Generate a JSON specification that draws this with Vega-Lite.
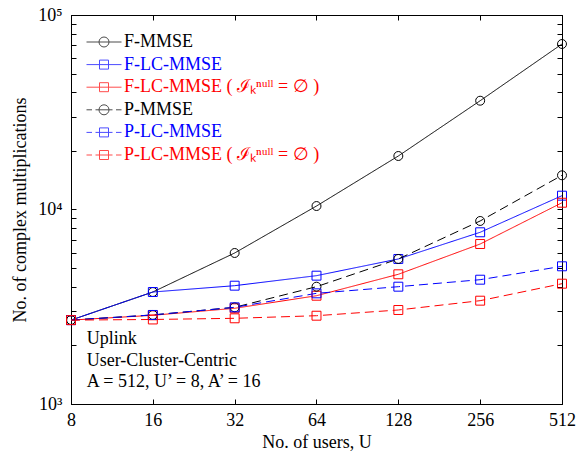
{
  "$schema": "https://vega.github.io/schema/vega-lite/v6.json",
  "width": 491,
  "height": 389,
  "autosize": {"type": "none"},
  "padding": {"left": 71, "top": 15, "right": 25, "bottom": 54},
  "background": "white",
  "config": {
    "view": {"stroke": "black", "strokeWidth": 1},
    "font": "Liberation Serif",
    "axis": {
      "labelFont": "Liberation Serif", "titleFont": "Liberation Serif",
      "labelFontSize": 18, "titleFontSize": 18, "labelColor": "black", "titleColor": "black",
      "titleFontWeight": "normal", "domainColor": "black", "tickColor": "black",
      "grid": false, "tickSize": -5, "domainWidth": 1, "tickWidth": 1, "labelOverlap": false, "labelFlush": false
    }
  },
  "data": {"values": [
    {"U": 8, "series": "F-MMSE", "value": 2700},
    {"U": 16, "series": "F-MMSE", "value": 3765},
    {"U": 32, "series": "F-MMSE", "value": 5976},
    {"U": 64, "series": "F-MMSE", "value": 10420},
    {"U": 128, "series": "F-MMSE", "value": 18840},
    {"U": 256, "series": "F-MMSE", "value": 36250},
    {"U": 512, "series": "F-MMSE", "value": 70950},
    {"U": 8, "series": "F-LC-MMSE", "value": 2700},
    {"U": 16, "series": "F-LC-MMSE", "value": 3765},
    {"U": 32, "series": "F-LC-MMSE", "value": 4058},
    {"U": 64, "series": "F-LC-MMSE", "value": 4569},
    {"U": 128, "series": "F-LC-MMSE", "value": 5568},
    {"U": 256, "series": "F-LC-MMSE", "value": 7636},
    {"U": 512, "series": "F-LC-MMSE", "value": 11780},
    {"U": 8, "series": "F-LC-MMSE-null", "value": 2700},
    {"U": 16, "series": "F-LC-MMSE-null", "value": 2858},
    {"U": 32, "series": "F-LC-MMSE-null", "value": 3105},
    {"U": 64, "series": "F-LC-MMSE-null", "value": 3603},
    {"U": 128, "series": "F-LC-MMSE-null", "value": 4644},
    {"U": 256, "series": "F-LC-MMSE-null", "value": 6646},
    {"U": 512, "series": "F-LC-MMSE-null", "value": 10835},
    {"U": 8, "series": "P-MMSE", "value": 2700},
    {"U": 16, "series": "P-MMSE", "value": 2870},
    {"U": 32, "series": "P-MMSE", "value": 3141},
    {"U": 64, "series": "P-MMSE", "value": 4010},
    {"U": 128, "series": "P-MMSE", "value": 5568},
    {"U": 256, "series": "P-MMSE", "value": 8730},
    {"U": 512, "series": "P-MMSE", "value": 14990},
    {"U": 8, "series": "P-LC-MMSE", "value": 2700},
    {"U": 16, "series": "P-LC-MMSE", "value": 2870},
    {"U": 32, "series": "P-LC-MMSE", "value": 3141},
    {"U": 64, "series": "P-LC-MMSE", "value": 3707},
    {"U": 128, "series": "P-LC-MMSE", "value": 4010},
    {"U": 256, "series": "P-LC-MMSE", "value": 4356},
    {"U": 512, "series": "P-LC-MMSE", "value": 5105},
    {"U": 8, "series": "P-LC-MMSE-null", "value": 2700},
    {"U": 16, "series": "P-LC-MMSE-null", "value": 2720},
    {"U": 32, "series": "P-LC-MMSE-null", "value": 2758},
    {"U": 64, "series": "P-LC-MMSE-null", "value": 2844},
    {"U": 128, "series": "P-LC-MMSE-null", "value": 3043},
    {"U": 256, "series": "P-LC-MMSE-null", "value": 3398},
    {"U": 512, "series": "P-LC-MMSE-null", "value": 4155}
  ]},
  "layer": [
    {
      "mark": {"type": "line", "strokeWidth": 1},
      "encoding": {
        "x": {"field": "U", "type": "quantitative",
          "scale": {"type": "log", "base": 2, "domain": [8, 512], "nice": false},
          "axis": {"values": [8, 16, 32, 64, 128, 256, 512], "title": "No. of users, U", "labelPadding": 12, "titlePadding": 4}},
        "y": {"field": "value", "type": "quantitative",
          "scale": {"type": "log", "domain": [1000, 100000], "nice": false},
          "axis": {"values": [1000, 2000, 3000, 4000, 5000, 6000, 7000, 8000, 9000, 10000, 20000, 30000, 40000, 50000, 60000, 70000, 80000, 90000, 100000],
            "labelExpr": "datum.value == 1000 ? '10³' : datum.value == 10000 ? '10⁴' : datum.value == 100000 ? '10⁵' : ''",
            "title": "No. of complex multiplications", "labelPadding": 14, "titlePadding": 8}},
        "color": {"field": "series", "type": "nominal",
          "scale": {"domain": ["F-MMSE", "F-LC-MMSE", "F-LC-MMSE-null", "P-MMSE", "P-LC-MMSE", "P-LC-MMSE-null"],
            "range": ["#000000", "#0000ff", "#ff0000", "#000000", "#0000ff", "#ff0000"]}, "legend": null},
        "strokeDash": {"field": "series", "type": "nominal",
          "scale": {"domain": ["F-MMSE", "F-LC-MMSE", "F-LC-MMSE-null", "P-MMSE", "P-LC-MMSE", "P-LC-MMSE-null"],
            "range": [[1, 0], [1, 0], [1, 0], [9, 5], [9, 5], [9, 5]]}, "legend": null}
      }
    },
    {
      "mark": {"type": "point", "filled": false, "size": 80, "strokeWidth": 1, "opacity": 1},
      "encoding": {
        "x": {"field": "U", "type": "quantitative", "axis": null},
        "y": {"field": "value", "type": "quantitative", "axis": null},
        "color": {"field": "series", "type": "nominal", "legend": null},
        "shape": {"field": "series", "type": "nominal",
          "scale": {"domain": ["F-MMSE", "F-LC-MMSE", "F-LC-MMSE-null", "P-MMSE", "P-LC-MMSE", "P-LC-MMSE-null"],
            "range": ["circle", "square", "square", "circle", "square", "square"]}, "legend": null}
      }
    },
    {
      "transform": [{"filter": "false"}],
      "mark": {"type": "point", "filled": false, "size": 100, "strokeWidth": 1},
      "encoding": {
        "x": {"field": "U", "type": "quantitative",
          "axis": {"orient": "top", "values": [8, 16, 32, 64, 128, 256, 512], "labels": false, "title": null}},
        "y": {"field": "value", "type": "quantitative",
          "axis": {"orient": "right", "values": [2000, 3000, 4000, 5000, 6000, 7000, 8000, 9000, 10000, 20000, 30000, 40000, 50000, 60000, 70000, 80000, 90000], "labels": false, "title": null}},
        "shape": {"field": "series", "type": "nominal",
          "scale": {"domain": ["F-MMSE", "F-LC-MMSE", "F-LC-MMSE-null", "P-MMSE", "P-LC-MMSE", "P-LC-MMSE-null"],
            "range": [
              "M-3.5,0L3.5,0M1,0A1,1,0,1,1,-1,0A1,1,0,1,1,1,0",
              "M-3.5,0L3.5,0M-0.9,-0.9L0.9,-0.9L0.9,0.9L-0.9,0.9Z",
              "M-3.5,0L3.5,0M-0.9,-0.9L0.9,-0.9L0.9,0.9L-0.9,0.9Z",
              "M-3.5,0L-2.4,0M-1.7,0L1.7,0M2.4,0L3.5,0M1,0A1,1,0,1,1,-1,0A1,1,0,1,1,1,0",
              "M-3.5,0L-2.4,0M-1.7,0L1.7,0M2.4,0L3.5,0M-0.9,-0.9L0.9,-0.9L0.9,0.9L-0.9,0.9Z",
              "M-3.5,0L-2.4,0M-1.7,0L1.7,0M2.4,0L3.5,0M-0.9,-0.9L0.9,-0.9L0.9,0.9L-0.9,0.9Z"
            ]},
          "legend": {
            "orient": "none", "legendX": 24, "legendY": 18, "title": null, "padding": 0,
            "labelFont": "Liberation Serif", "labelFontSize": 18, "labelLimit": 400,
            "labelExpr": "replace(datum.value, '-null', ' ( ℐₖⁿᵘˡˡ = ∅ )')",
            "symbolSize": 100, "symbolStrokeWidth": 1, "symbolFillColor": "transparent",
            "labelOffset": 11, "rowPadding": 4.6,
            "encoding": {
              "symbols": {"stroke": {"condition": [{"test": "indexof(datum.value, 'LC') < 0", "value": "#000000"}, {"test": "indexof(datum.value, 'null') >= 0", "value": "#ff0000"}], "value": "#0000ff"}},
              "labels": {"fill": {"condition": [{"test": "indexof(datum.value, 'LC') < 0", "value": "#000000"}, {"test": "indexof(datum.value, 'null') >= 0", "value": "#ff0000"}], "value": "#0000ff"}}
            }
          }
        }
      }
    },
    {
      "data": {"values": [{"note": "Uplink\nUser-Cluster-Centric\nA = 512, U’ = 8, A’ = 16"}]},
      "mark": {"type": "text", "align": "left", "baseline": "alphabetic", "fontSize": 18, "lineHeight": 21.5, "font": "Liberation Serif", "color": "black", "lineBreak": "\n"},
      "encoding": {
        "x": {"datum": 9.14, "type": "quantitative", "axis": null},
        "y": {"datum": 2034, "type": "quantitative", "axis": null},
        "text": {"field": "note", "type": "nominal"}
      }
    }
  ],
  "resolve": {"scale": {"shape": "independent"}, "axis": {"x": "independent", "y": "independent"}}
}
